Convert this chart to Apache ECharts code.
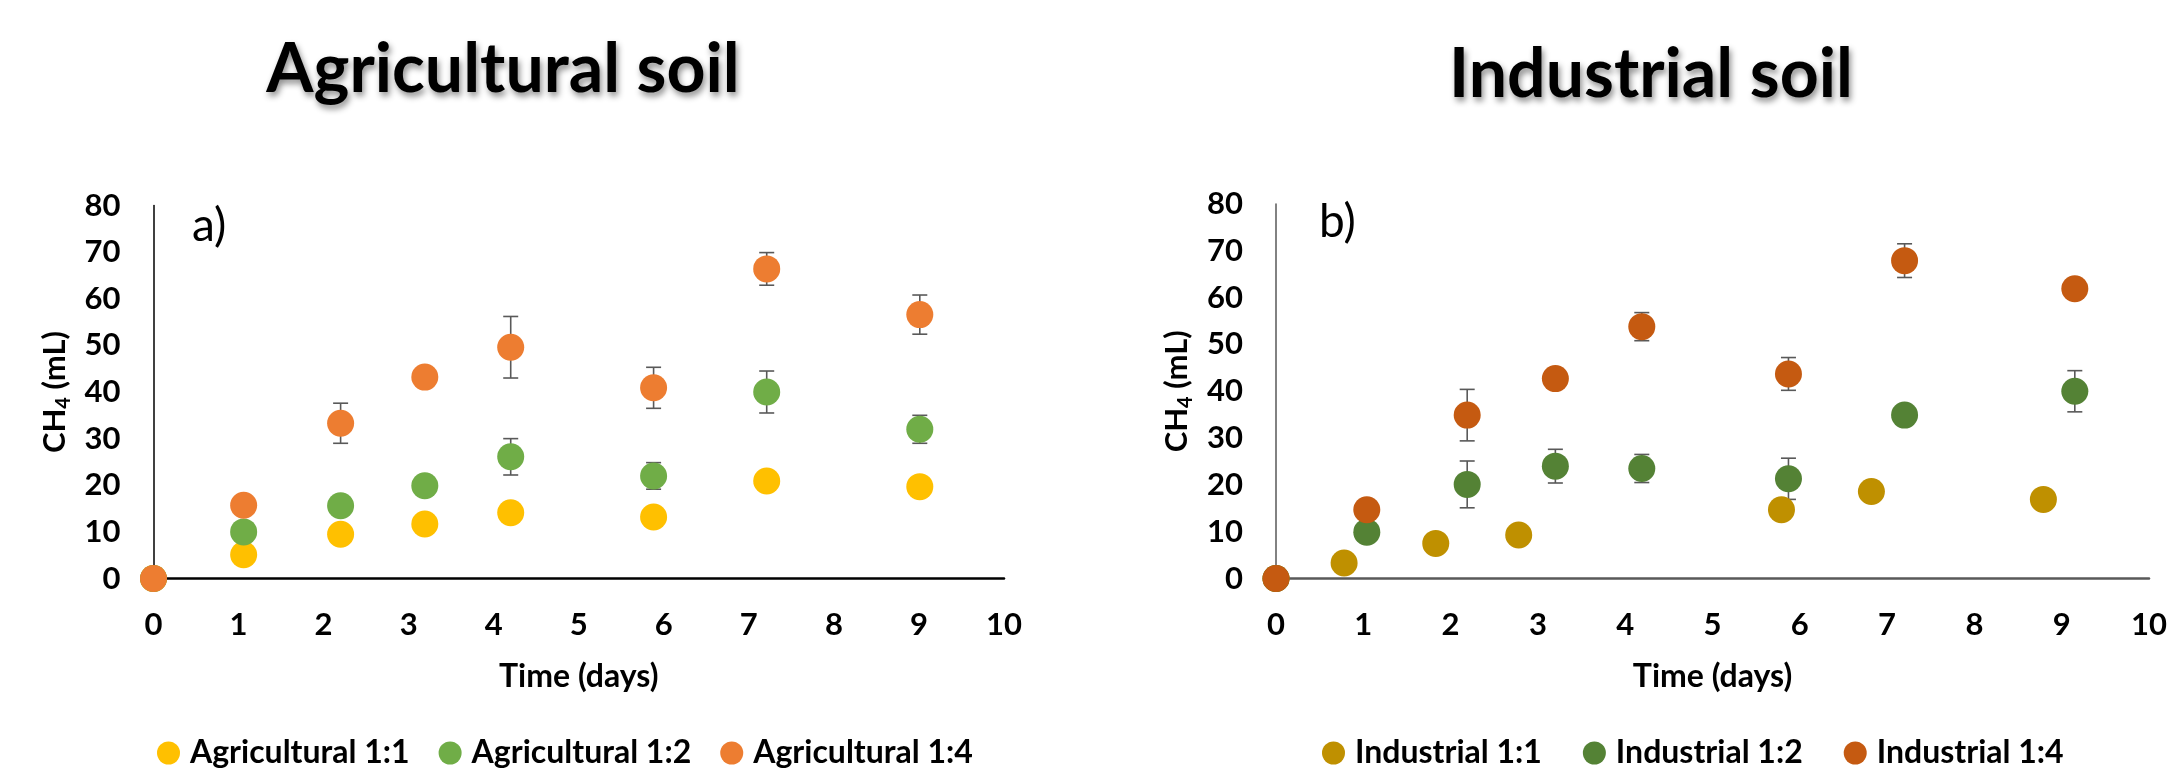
<!DOCTYPE html>
<html>
<head>
<meta charset="utf-8">
<script src="https://cdn.jsdelivr.net/npm/echarts@6/dist/echarts.min.js"></script>
<style>
html,body{margin:0;padding:0;background:#fff;}
#chart{width:2170px;height:781px;}
</style>
</head>
<body>
<div id="chart"></div>
<script>
// ---- Data ----
const xTicks = [0,1,2,3,4,5,6,7,8,9,10];
const yTicks = [0,10,20,30,40,50,60,70,80];

const agriDays  = [0, 1.06, 2.2, 3.19, 4.2, 5.88, 7.21, 9.01];
const agri11    = [0, 5.1, 9.5, 11.7, 14.1, 13.2, 20.9, 19.7];
const agri11Err = [0, 0, 0, 0, 0, 0, 0, 0];
const agri12    = [0, 10.0, 15.6, 19.9, 26.1, 22.0, 40.0, 32.0];
const agri12Err = [0, 0, 0, 0, 3.9, 2.85, 4.5, 3.0];
const agri14    = [0, 15.7, 33.3, 43.2, 49.6, 40.9, 66.4, 56.6];
const agri14Err = [0, 0, 4.3, 0, 6.6, 4.4, 3.5, 4.2];

const ind11Days = [0, 0.78, 1.83, 2.78, 5.79, 6.82, 8.79];
const ind11     = [0, 3.3, 7.5, 9.3, 14.7, 18.6, 16.9];
const ind11Err  = [0, 0, 0, 0, 0, 0, 0];
const indDays   = [0, 1.04, 2.19, 3.2, 4.19, 5.87, 7.2, 9.15];
const ind12     = [0, 9.9, 20.1, 24.0, 23.5, 21.3, 34.9, 40.0];
const ind12Err  = [0, 0, 5.0, 3.6, 3.0, 4.4, 0, 4.4];
const ind14     = [0, 14.7, 34.9, 42.7, 53.8, 43.7, 67.9, 61.9];
const ind14Err  = [0, 0, 5.5, 0, 3.0, 3.5, 3.6, 0];

const agriNames = ['Agricultural 1:1', 'Agricultural 1:2', 'Agricultural 1:4'];
const indNames  = ['Industrial 1:1', 'Industrial 1:2', 'Industrial 1:4'];
const agriColors = ['#FFC000', '#70AD47', '#ED7D31'];
const indColors  = ['#BF9000', '#548235', '#C55A11'];

// ---- Helpers ----
const FONT = 'Lato, "Open Sans", sans-serif';
function pts(days, vals) { return days.map((d, i) => [d, vals[i]]); }
function errPts(days, vals, errs) { return days.map((d, i) => [d, vals[i], errs[i]]); }

function renderErr(params, api) {
  const x = api.value(0), y = api.value(1), e = api.value(2);
  if (!e) return { type: 'group', children: [] };
  const top = api.coord([x, y + e]);
  const bot = api.coord([x, y - e]);
  const hw = 7.5;
  const st = { stroke: '#595959', lineWidth: 1.6 };
  return {
    type: 'group',
    children: [
      { type: 'line', shape: { x1: top[0], y1: top[1], x2: bot[0], y2: bot[1] }, style: st },
      { type: 'line', shape: { x1: top[0] - hw, y1: top[1], x2: top[0] + hw, y2: top[1] }, style: st },
      { type: 'line', shape: { x1: bot[0] - hw, y1: bot[1], x2: bot[0] + hw, y2: bot[1] }, style: st }
    ]
  };
}

function makeX(idx, lineColor) {
  return {
    gridIndex: idx, type: 'value', min: 0, max: 10, interval: 1,
    axisLine: { show: true, onZero: false, lineStyle: { color: lineColor, width: 2.5 } },
    axisTick: { show: false },
    splitLine: { show: false },
    axisLabel: { fontSize: 31, fontWeight: 'bold', fontFamily: FONT, color: '#000', margin: 31,
      formatter: v => xTicks.includes(v) ? String(v) : '' },
    name: 'Time (days)', nameLocation: 'middle', nameGap: 82,
    nameTextStyle: { fontSize: 32, fontWeight: 'bold', fontFamily: FONT, color: '#000' }
  };
}
function makeY(idx, lineColor) {
  return {
    gridIndex: idx, type: 'value', min: 0, max: 80, interval: 10,
    axisLine: { show: true, onZero: false, lineStyle: { color: lineColor, width: 1.5 } },
    axisTick: { show: false },
    splitLine: { show: false },
    axisLabel: { fontSize: 31, fontWeight: 'bold', fontFamily: FONT, color: '#000', margin: 33,
      formatter: v => yTicks.includes(v) ? String(v) : '' },
    name: '{a|CH}{s|4}{a| (mL)}', nameLocation: 'middle', nameRotate: 90, nameGap: 80,
    nameTextStyle: {
      fontFamily: FONT, color: '#000',
      rich: {
        a: { fontSize: 31, fontWeight: 'bold', fontFamily: FONT, color: '#000' },
        s: { fontSize: 20, fontWeight: 'bold', fontFamily: FONT, color: '#000', verticalAlign: 'bottom', padding: [18, 0, 0, 0] }
      }
    }
  };
}

function scatter(name, data, color, xi) {
  return {
    name, type: 'scatter', xAxisIndex: xi, yAxisIndex: xi, data,
    symbol: 'circle', symbolSize: 27, itemStyle: { color, opacity: 1 },
    emphasis: { disabled: true }, z: 3
  };
}
function errSeries(data, xi) {
  return {
    type: 'custom', xAxisIndex: xi, yAxisIndex: xi, data, renderItem: renderErr,
    encode: { x: 0, y: 1 }, z: 2, silent: true
  };
}

const chart = echarts.init(document.getElementById('chart'), null, { renderer: 'canvas' });
chart.setOption({
  backgroundColor: '#fff',
  animation: false,
  grid: [
    { left: 153.5, top: 205.5, width: 850.5, height: 373 },
    { left: 1276, top: 204, width: 875, height: 374.5 }
  ],
  xAxis: [makeX(0, '#000'), makeX(1, '#595959')],
  yAxis: [makeY(0, '#000'), makeY(1, '#595959')],
  legend: [
    { data: agriNames, left: 152, top: 732, icon: 'circle', itemWidth: 23, itemHeight: 23, itemGap: 29,
      textStyle: { fontSize: 32, fontWeight: 'bold', fontFamily: FONT, color: '#000', padding: [0, 0, 0, 5] },
      selectedMode: false },
    { data: indNames, left: 1317, top: 732, icon: 'circle', itemWidth: 23, itemHeight: 23, itemGap: 41,
      textStyle: { fontSize: 32, fontWeight: 'bold', fontFamily: FONT, color: '#000', padding: [0, 0, 0, 5] },
      selectedMode: false }
  ],
  graphic: [
    { type: 'text', x: 503, y: 70, style: { text: 'Agricultural soil', font: 'bold 68px ' + FONT, fill: '#000',
      textAlign: 'center', textVerticalAlign: 'middle', align: 'center', verticalAlign: 'middle',
      textShadowColor: 'rgba(0,0,0,0.45)', textShadowBlur: 6, textShadowOffsetX: 2, textShadowOffsetY: 4 } },
    { type: 'text', x: 1651, y: 75, style: { text: 'Industrial soil', font: 'bold 68px ' + FONT, fill: '#000',
      textAlign: 'center', textVerticalAlign: 'middle', align: 'center', verticalAlign: 'middle',
      textShadowColor: 'rgba(0,0,0,0.45)', textShadowBlur: 6, textShadowOffsetX: 2, textShadowOffsetY: 4 } },
    { type: 'text', x: 192, y: 226, style: { text: 'a)', font: '46px ' + FONT, fill: '#000',
      textAlign: 'left', textVerticalAlign: 'middle', align: 'left', verticalAlign: 'middle' } },
    { type: 'text', x: 1319, y: 222, style: { text: 'b)', font: '46px ' + FONT, fill: '#000',
      textAlign: 'left', textVerticalAlign: 'middle', align: 'left', verticalAlign: 'middle' } }
  ],
  series: [
    errSeries(errPts(agriDays, agri11, agri11Err), 0),
    errSeries(errPts(agriDays, agri12, agri12Err), 0),
    errSeries(errPts(agriDays, agri14, agri14Err), 0),
    scatter(agriNames[0], pts(agriDays, agri11), agriColors[0], 0),
    scatter(agriNames[1], pts(agriDays, agri12), agriColors[1], 0),
    scatter(agriNames[2], pts(agriDays, agri14), agriColors[2], 0),
    errSeries(errPts(ind11Days, ind11, ind11Err), 1),
    errSeries(errPts(indDays, ind12, ind12Err), 1),
    errSeries(errPts(indDays, ind14, ind14Err), 1),
    scatter(indNames[0], pts(ind11Days, ind11), indColors[0], 1),
    scatter(indNames[1], pts(indDays, ind12), indColors[1], 1),
    scatter(indNames[2], pts(indDays, ind14), indColors[2], 1)
  ]
});
</script>
</body>
</html>
